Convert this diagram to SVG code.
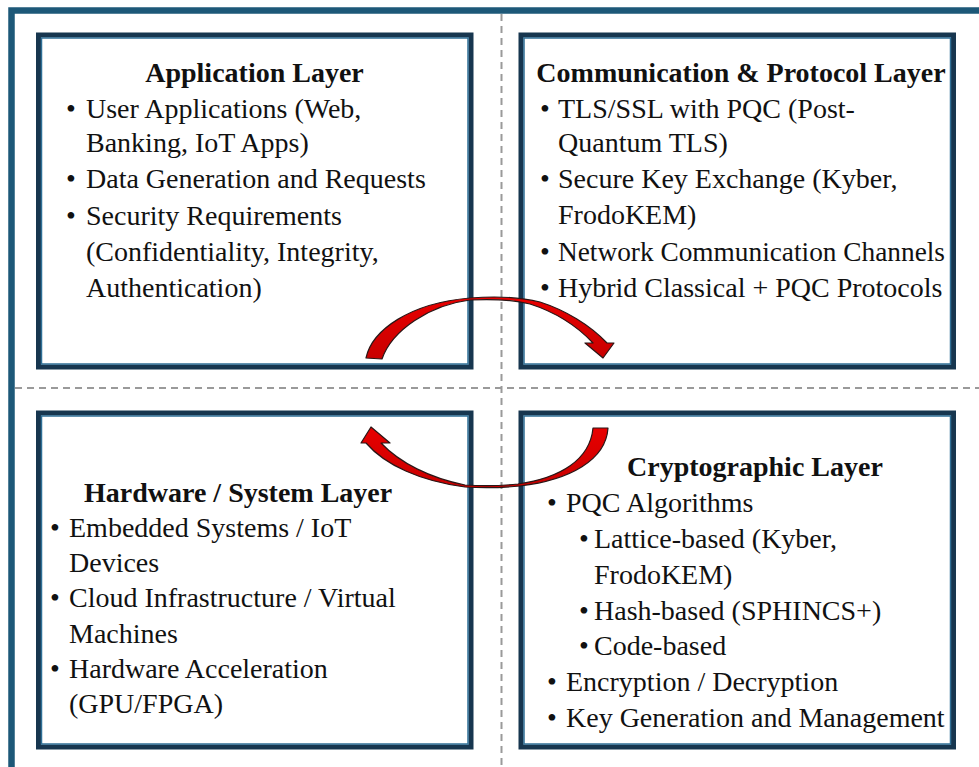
<svg xmlns="http://www.w3.org/2000/svg" width="979" height="767" viewBox="0 0 979 767">
  <style>
    .frame { fill: none; stroke: #1d5878; stroke-width: 6.5; }
    .divider { fill: none; stroke: #9a9a9a; stroke-width: 2; stroke-dasharray: 7 5; }
    .box { fill: #ffffff; stroke: #17364f; stroke-width: 5; }
    .box-hl { fill: none; stroke: #2f6f96; stroke-width: 1.5; }
    .title { font-family: "Liberation Serif", "Times New Roman", serif; font-size: 28px; font-weight: bold; fill: #111111; }
    .item { font-family: "Liberation Serif", "Times New Roman", serif; font-size: 28px; fill: #111111; }
    .flow { fill: url(#redFill); stroke: #2a1616; stroke-width: 1.2; stroke-linejoin: round; }
  </style>
  <defs>
    <linearGradient id="redFill" x1="0" y1="0" x2="0" y2="1">
      <stop offset="0" stop-color="#e80000"/>
      <stop offset="1" stop-color="#c80000"/>
    </linearGradient>
  </defs>

  <rect width="979" height="767" fill="#ffffff"/>

  <!-- outer frame and quadrant dividers -->
  <rect class="frame" x="11.5" y="10.5" width="1000" height="800"/>
  <line class="divider" x1="501.5" y1="14" x2="501.5" y2="767"/>
  <line class="divider" x1="15" y1="388" x2="979" y2="388"/>

  <!-- Application Layer -->
  <g id="application-layer">
    <rect class="box" x="38.5" y="35" width="432.5" height="332"/>
    <rect class="box-hl" x="41.5" y="38" width="426.5" height="326"/>
    <text class="title" x="254.5" y="82" text-anchor="middle">Application Layer</text>
    <text class="item" x="66" y="118">•</text>
    <text class="item" x="86" y="118">User Applications (Web,</text>
    <text class="item" x="86" y="152">Banking, IoT Apps)</text>
    <text class="item" x="66" y="188">•</text>
    <text class="item" x="86" y="188">Data Generation and Requests</text>
    <text class="item" x="66" y="225">•</text>
    <text class="item" x="86" y="225">Security Requirements</text>
    <text class="item" x="86" y="261">(Confidentiality, Integrity,</text>
    <text class="item" x="86" y="297">Authentication)</text>
  </g>

  <!-- Communication & Protocol Layer -->
  <g id="protocol-layer">
    <rect class="box" x="521" y="35" width="432.5" height="332"/>
    <rect class="box-hl" x="524" y="38" width="426.5" height="326"/>
    <text class="title" x="741" y="82" text-anchor="middle">Communication &amp; Protocol Layer</text>
    <text class="item" x="540" y="118">•</text>
    <text class="item" x="558" y="118">TLS/SSL with PQC (Post-</text>
    <text class="item" x="558" y="152">Quantum TLS)</text>
    <text class="item" x="540" y="188">•</text>
    <text class="item" x="558" y="188">Secure Key Exchange (Kyber,</text>
    <text class="item" x="558" y="224">FrodoKEM)</text>
    <text class="item" x="540" y="261">•</text>
    <text class="item" x="558" y="261" textLength="387" lengthAdjust="spacingAndGlyphs">Network Communication Channels</text>
    <text class="item" x="540" y="297">•</text>
    <text class="item" x="558" y="297">Hybrid Classical + PQC Protocols</text>
  </g>

  <!-- Hardware / System Layer -->
  <g id="hardware-layer">
    <rect class="box" x="38.5" y="413" width="432.5" height="334"/>
    <rect class="box-hl" x="41.5" y="416" width="426.5" height="328"/>
    <text class="title" x="84" y="502">Hardware / System Layer</text>
    <text class="item" x="50" y="537">•</text>
    <text class="item" x="69" y="537">Embedded Systems / IoT</text>
    <text class="item" x="69" y="572">Devices</text>
    <text class="item" x="50" y="607">•</text>
    <text class="item" x="69" y="607">Cloud Infrastructure / Virtual</text>
    <text class="item" x="69" y="643">Machines</text>
    <text class="item" x="50" y="678">•</text>
    <text class="item" x="69" y="678">Hardware Acceleration</text>
    <text class="item" x="69" y="713">(GPU/FPGA)</text>
  </g>

  <!-- Cryptographic Layer -->
  <g id="cryptographic-layer">
    <rect class="box" x="521" y="413" width="432.5" height="334"/>
    <rect class="box-hl" x="524" y="416" width="426.5" height="328"/>
    <text class="title" x="627" y="476">Cryptographic Layer</text>
    <text class="item" x="547" y="512">•</text>
    <text class="item" x="566" y="512">PQC Algorithms</text>
    <text class="item" x="579" y="548">•</text>
    <text class="item" x="594" y="548">Lattice-based (Kyber,</text>
    <text class="item" x="594" y="584">FrodoKEM)</text>
    <text class="item" x="579" y="620">•</text>
    <text class="item" x="594" y="620">Hash-based (SPHINCS+)</text>
    <text class="item" x="579" y="655">•</text>
    <text class="item" x="594" y="655">Code-based</text>
    <text class="item" x="547" y="691">•</text>
    <text class="item" x="566" y="691">Encryption / Decryption</text>
    <text class="item" x="547" y="727">•</text>
    <text class="item" x="566" y="727">Key Generation and Management</text>
  </g>

  <!-- curved flow arrows between layers -->
  <g id="connectors">
    <path id="app-to-protocol" class="flow"
      d="M 366 358 C 372 330, 410 303, 470 298 C 495 296, 520 297, 540 302 C 565 310, 590 325, 607 343 L 614 343 L 603 358 L 585 343 L 593 343 C 577 326, 555 312, 530 304 C 510 299, 490 299, 470 300 C 430 305, 392 330, 382 359 Z"/>
    <path id="crypto-to-hardware" class="flow"
      d="M 608 428 C 606 460, 570 480, 520 486 C 500 488, 480 488, 465 487 C 420 481, 385 465, 366 443 L 361 443 L 371 427 L 390 443 L 381 443 C 400 463, 430 478, 465 485 C 480 486, 500 486, 518 484 C 560 478, 590 460, 593 428 Z"/>
  </g>
</svg>
